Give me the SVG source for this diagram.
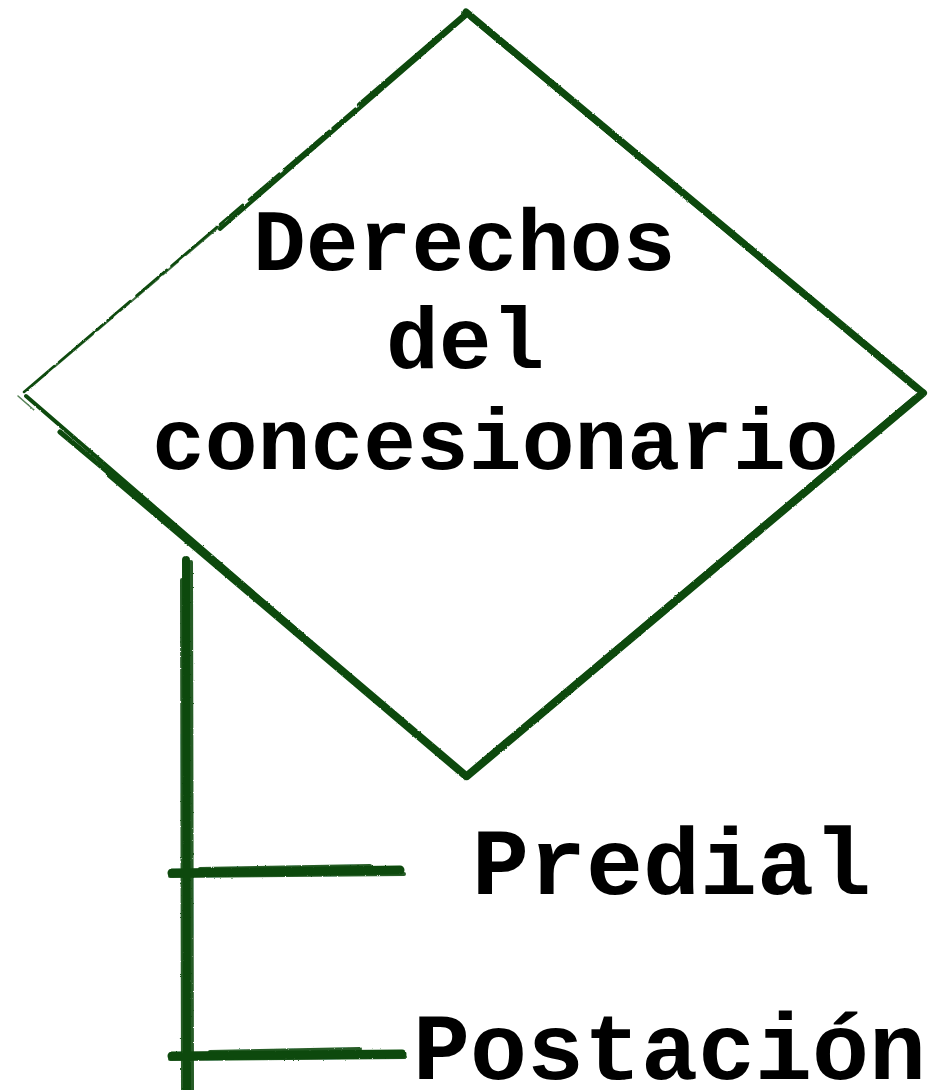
<svg xmlns="http://www.w3.org/2000/svg" width="938" height="1090" viewBox="0 0 938 1090">
  <style>
    .ink { fill: none; stroke: #0b4a0d; stroke-linecap: round; stroke-linejoin: miter; }
    .lbl { font-family: "Liberation Mono", "Courier New", monospace; font-weight: bold; fill: #000; }
    .t1 { font-size: 88px; }
    .t2 { font-size: 95px; }
  </style>
  <defs>
    <filter id="rough" x="-5%" y="-5%" width="110%" height="110%">
      <feTurbulence type="fractalNoise" baseFrequency="0.6" numOctaves="2" seed="3" result="n"/>
      <feDisplacementMap in="SourceGraphic" in2="n" scale="2" xChannelSelector="R" yChannelSelector="G"/>
    </filter>
  </defs>
  <rect width="938" height="1090" fill="#fff"/>

  <g id="node-derechos">
    <g filter="url(#rough)">
      <!-- top-left edge (thin, broken) -->
      <path class="ink" d="M24,392 L466,14" stroke-width="2.5" stroke-dasharray="40 6 60 4 30 8"/>
      <path class="ink" d="M32,386 L463,19" stroke-width="2" opacity="0.8" stroke-dasharray="20 10 50 6"/>
      <path class="ink" d="M220,229 L466,16" stroke-width="4"/>
      <path class="ink" d="M360,105 L466,14" stroke-width="6"/>
      <!-- top-right edge -->
      <path class="ink" d="M466,12 L921,391" stroke-width="7"/>
      <path class="ink" d="M470,18 L916,390" stroke-width="3"/>
      <!-- bottom-right edge -->
      <path class="ink" d="M923,393 L467,776" stroke-width="8"/>
      <path class="ink" d="M914,398 L471,771" stroke-width="4"/>
      <!-- bottom-left edge -->
      <path class="ink" d="M466,776 L110,474" stroke-width="8"/>
      <path class="ink" d="M462,773 L26,396" stroke-width="4"/>
      <path class="ink" d="M18,396 L34,410" stroke-width="1.5" opacity="0.7"/>
      <path class="ink" d="M60,432 L220,566" stroke-width="5"/>
    </g>
    <text class="lbl t1" x="253" y="270">Derechos</text>
    <text class="lbl t1" x="386" y="368">del</text>
    <text class="lbl t1" x="152" y="469">concesionario</text>
  </g>

  <g id="connectors">
    <g filter="url(#rough)">
      <path class="ink" d="M186,560 L187,1090" stroke-width="8"/>
      <path class="ink" d="M182,580 L183,1090" stroke-width="4" opacity="0.9"/>
      <path class="ink" d="M191,562 L192,1090" stroke-width="4" opacity="0.9"/>
      <path class="ink" d="M172,873 L400,870" stroke-width="9"/>
      <path class="ink" d="M170,876 L404,874" stroke-width="4" opacity="0.9"/>
      <path class="ink" d="M200,869 L370,866" stroke-width="4" opacity="0.9"/>
      <path class="ink" d="M172,1056 L402,1054" stroke-width="9"/>
      <path class="ink" d="M170,1059 L405,1057" stroke-width="4" opacity="0.9"/>
      <path class="ink" d="M210,1052 L360,1049" stroke-width="4" opacity="0.9"/>
    </g>
  </g>

  <g id="node-predial">
    <text class="lbl t2" x="472" y="894">Predial</text>
  </g>
  <g id="node-postacion">
    <text class="lbl t2" x="413" y="1079">Postación</text>
  </g>
</svg>
